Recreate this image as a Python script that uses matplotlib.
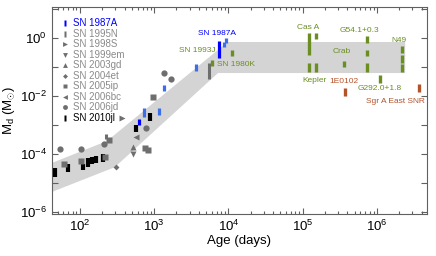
import numpy as np
import matplotlib
matplotlib.use('Agg')
import matplotlib.pyplot as plt
from matplotlib.lines import Line2D
from matplotlib.ticker import FixedLocator, FuncFormatter, LogLocator, NullFormatter, NullLocator

plt.rcParams['font.family'] = ['Liberation Sans', 'DejaVu Sans']
plt.rcParams['mathtext.fontset'] = 'custom'
plt.rcParams['mathtext.rm'] = 'Liberation Sans'
plt.rcParams['mathtext.it'] = 'Liberation Sans:italic'
plt.rcParams['mathtext.bf'] = 'Liberation Sans:bold'

# ---------------- data ----------------
band_age = [42, 232, 9772, 2.4e6, 2.4e6, 7244, 295, 42]
band_mass = [4.9e-5, 2.8e-4, 0.724, 0.724, 0.0617, 0.0617, 3.5e-5, 4.9e-6]

sn1987a_age = [631, 7413]
sn1987a_lo = [1.0e-3, 0.20]
sn1987a_hi = [1.6e-3, 0.81]
sn1987a_b_age = [741, 1175, 1349, 3715, 8710, 9333]
sn1987a_b_lo = [1.95e-3, 2.2e-3, 0.0148, 0.072, 0.48, 0.66]
sn1987a_b_hi = [3.8e-3, 3.8e-3, 0.024, 0.126, 0.74, 0.98]

sn1995n_age = [224, 5500]
sn1995n_lo = [3.2e-4, 0.037]
sn1995n_hi = [4.7e-4, 0.141]

sn1998s_age = [372]
sn1998s_m = [1.8e-3]
sn1999em_age = [525]
sn1999em_m = [9.8e-5]
sn2003gd_age = [513]
sn2003gd_m = [1.8e-4]
sn2004et_age = [309]
sn2004et_m = [3.5e-5]
sn2005ip_age = [62, 105, 219, 245, 759, 832, 955]
sn2005ip_m = [4.4e-5, 5.9e-5, 7.8e-5, 3.0e-4, 1.66e-4, 1.35e-4, 9.5e-3]
sn2006bc_age = [575]
sn2006bc_m = [3.8e-4]
sn2006jd_age = [54, 105, 214, 776, 1349, 1698]
sn2006jd_m = [1.5e-4, 1.5e-4, 2.2e-4, 8.1e-4, 0.060, 0.037]

sn2010jl_age = [46, 69, 110, 129, 145, 166, 204, 562, 891]
sn2010jl_lo = [1.66e-5, 2.3e-5, 2.8e-5, 3.6e-5, 4.4e-5, 4.8e-5, 5.4e-5, 5.8e-4, 1.4e-3]
sn2010jl_hi = [3.2e-5, 4.4e-5, 4.6e-5, 7.1e-5, 8.1e-5, 8.7e-5, 9.8e-5, 1.0e-3, 2.6e-3]

sn_green_age = [6026, 11220]
sn_green_lo = [0.107, 0.23]
sn_green_hi = [0.18, 0.39]

snr_green_age = [120226, 120226, 151356, 151356, 354813, 724436, 724436, 724436,
                 1.096e6, 2.19e6, 2.19e6, 2.19e6]
snr_green_lo = [0.257, 0.069, 0.91, 0.069, 0.098, 0.66, 0.23, 0.069, 0.029, 0.295, 0.141, 0.069]
snr_green_hi = [1.45, 0.135, 1.51, 0.135, 0.166, 1.17, 0.39, 0.135, 0.052, 0.52, 0.257, 0.123]

snr_brown_age = [371535, 3.63e6]
snr_brown_lo = [0.010, 0.0141]
snr_brown_hi = [0.0186, 0.025]

green_labels = ["SN 1993J", "SN 1980K", "Cas A", "Kepler", "Crab", "G54.1+0.3", "N49", "G292.0+1.8"]
green_label_x = [6760, 7000, 1.18e5, 1.46e5, 3.4e5, 5.9e5, 2.0e6, 1.1e6]
green_label_y = [0.355, 0.124, 2.3, 0.034, 0.337, 1.74, 0.81, 0.0174]
green_label_ha = ['right', 'left', 'center', 'center', 'center', 'center', 'center', 'center']
brown_labels = ["1E0102", "Sgr A East SNR"]
brown_label_x = [3.6e5, 1.8e6]
brown_label_y = [0.031, 0.0067]

# ---------------- style ----------------
BLUE = '#0000ff'
LBLUE = '#3b6fe8'
GRAY = '#6e6e6e'
GREEN = '#6b8e23'
BROWN = '#b4532a'
BAND = '#d4d4d4'

fig = plt.figure(figsize=(4.36, 2.56), dpi=100)
ax = fig.add_axes([0.119, 0.164, 0.860, 0.809])
ax.set_xscale('log')
ax.set_yscale('log')
ax.set_xlim(42, 4.7e6)
ax.set_ylim(10**-6.07, 10**1.07)

ax.fill(band_age, band_mass, color=BAND, lw=0, zorder=1)

ax.vlines(sn2010jl_age, sn2010jl_lo, sn2010jl_hi, color='black', lw=3.0, zorder=3)
ax.vlines(sn1995n_age, sn1995n_lo, sn1995n_hi, color=GRAY, lw=2.2, zorder=3)
ms = 4
ax.plot(sn2005ip_age, sn2005ip_m, 's', color=GRAY, ms=ms, mec='none', zorder=3)
ax.plot(sn2006jd_age, sn2006jd_m, 'o', color=GRAY, ms=ms+0.5, mec='none', zorder=3)
ax.plot(sn1998s_age, sn1998s_m, '>', color=GRAY, ms=ms, mec='none', zorder=3)
ax.plot(sn1999em_age, sn1999em_m, 'v', color=GRAY, ms=ms, mec='none', zorder=3)
ax.plot(sn2003gd_age, sn2003gd_m, '^', color=GRAY, ms=ms, mec='none', zorder=3)
ax.plot(sn2004et_age, sn2004et_m, 'D', color=GRAY, ms=3, mec='none', zorder=3)
ax.plot(sn2006bc_age, sn2006bc_m, '<', color=GRAY, ms=ms, mec='none', zorder=3)
ax.vlines(sn1987a_b_age, sn1987a_b_lo, sn1987a_b_hi, color=LBLUE, lw=2.3, zorder=4)
ax.vlines(sn1987a_age, sn1987a_lo, sn1987a_hi, color=BLUE, lw=2.3, zorder=4)
ax.vlines(sn_green_age, sn_green_lo, sn_green_hi, color=GREEN, lw=2.4, zorder=4)
ax.vlines(snr_green_age, snr_green_lo, snr_green_hi, color=GREEN, lw=2.4, zorder=4)
ax.vlines(snr_brown_age, snr_brown_lo, snr_brown_hi, color=BROWN, lw=2.4, zorder=4)

fs = 6.0
ax.text(7000, 1.45, "SN 1987A", color=BLUE, fontsize=fs, ha='center', va='center')
for t, x, y, ha in zip(green_labels, green_label_x, green_label_y, green_label_ha):
    ax.text(x, y, t, color=GREEN, fontsize=fs, ha=ha, va='center')
for t, x, y in zip(brown_labels, brown_label_x, brown_label_y):
    ax.text(x, y, t, color=BROWN, fontsize=fs, ha='center', va='center')

# legend
bar_marker = [(-0.3, -1), (0.3, -1), (0.3, 1), (-0.3, 1), (-0.3, -1)]
LG = '#8a8a8a'
handles = [
    Line2D([], [], ls='none', marker=bar_marker, color=BLUE, mec='none', ms=5),
    Line2D([], [], ls='none', marker=bar_marker, color=GRAY, mec='none', ms=5),
    Line2D([], [], ls='none', marker='>', color=GRAY, mec='none', ms=3.5),
    Line2D([], [], ls='none', marker='v', color=GRAY, mec='none', ms=3.5),
    Line2D([], [], ls='none', marker='^', color=GRAY, mec='none', ms=3.5),
    Line2D([], [], ls='none', marker='D', color=GRAY, mec='none', ms=2.5),
    Line2D([], [], ls='none', marker='s', color=GRAY, mec='none', ms=3.5),
    Line2D([], [], ls='none', marker='<', color=GRAY, mec='none', ms=3.5),
    Line2D([], [], ls='none', marker='o', color=GRAY, mec='none', ms=3.5),
    Line2D([], [], ls='none', marker=bar_marker, color='black', mec='none', ms=5),
]
names = ["SN 1987A", "SN 1995N", "SN 1998S", "SN 1999em", "SN 2003gd", "SN 2004et",
         "SN 2005ip", "SN 2006bc", "SN 2006jd", "SN 2010jl"]
leg = ax.legend(handles, names, loc='upper left', bbox_to_anchor=(0.027, 0.945), frameon=False,
                fontsize=7, handlelength=0.6, handletextpad=0.5, labelspacing=0.05,
                borderpad=0, borderaxespad=0, handleheight=0.5)
tcolors = [BLUE] + [LG] * 8 + ['black']
for txt, c in zip(leg.get_texts(), tcolors):
    txt.set_color(c)

# axes and ticks
for s in ax.spines.values():
    s.set_color('#606060')
    s.set_linewidth(0.8)
ax.xaxis.set_major_locator(LogLocator(base=10, numticks=20))
ax.xaxis.set_minor_locator(LogLocator(base=10, subs=np.arange(2, 10), numticks=20))
ax.xaxis.set_minor_formatter(NullFormatter())
ax.xaxis.set_major_formatter(FuncFormatter(lambda v, p: r'$10^{%d}$' % round(np.log10(v))))
ydec = np.arange(-7, 3)
ax.yaxis.set_major_locator(FixedLocator(10.0 ** ydec))
ax.yaxis.set_minor_locator(NullLocator())
ax.yaxis.set_major_formatter(FuncFormatter(
    lambda v, p: (r'$10^{%d}$' % round(np.log10(v))) if round(np.log10(v)) % 2 == 0 else ''))
ax.tick_params(which='both', direction='in', top=True, right=True, color='#606060',
               labelsize=9.5, width=0.8)
ax.tick_params(which='major', length=4)
ax.tick_params(which='minor', length=2)
ax.set_xlabel('Age (days)', fontsize=9.5, labelpad=1)
ax.set_ylabel(r'M$_{\rm d}$ (M$_{\odot}$)', fontsize=9.5, labelpad=2)

fig.savefig('out.png', dpi=100)
